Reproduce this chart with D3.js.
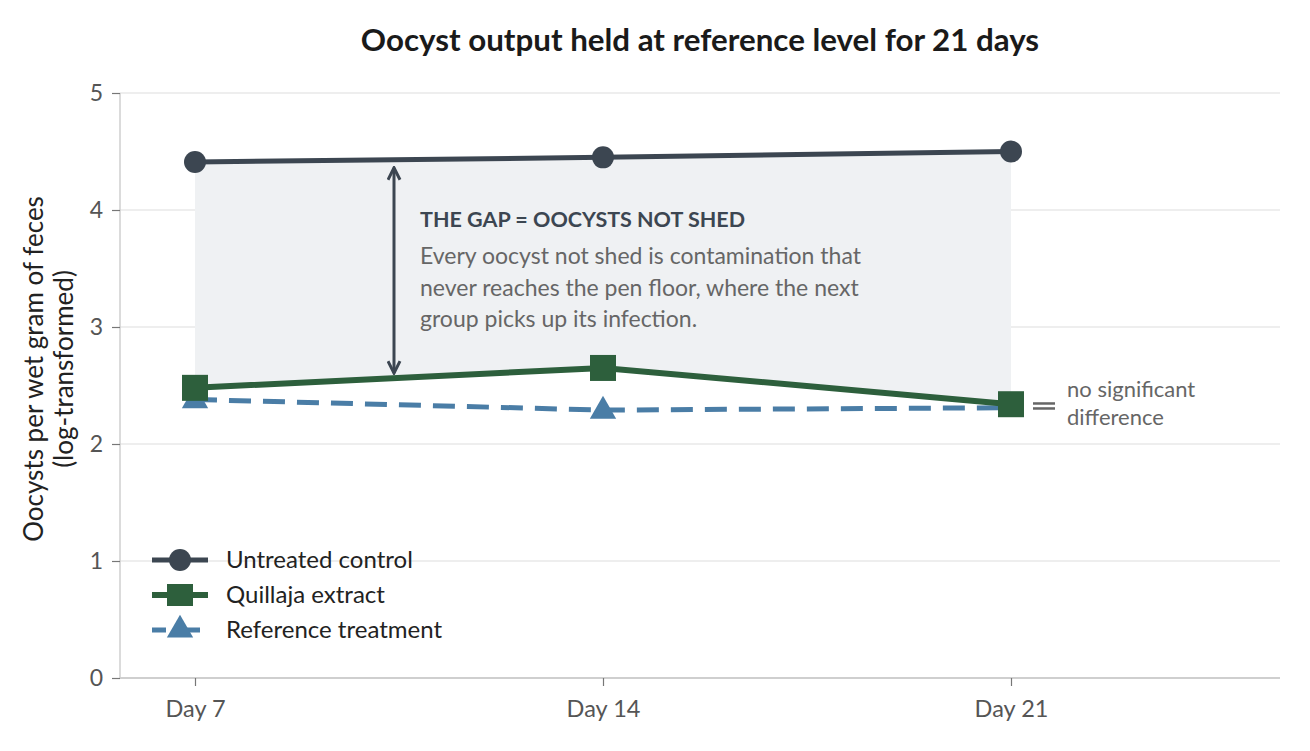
<!DOCTYPE html>
<html><head><meta charset="utf-8">
<script src="https://cdn.jsdelivr.net/npm/d3@7"></script>
<style>body{margin:0;background:#fff;font-family:Lato,"Open Sans",sans-serif;}</style>
</head><body><svg id="c" width="1310" height="751"></svg>
<script>
const days = ["Day 7", "Day 14", "Day 21"];
const untreated = [4.41, 4.45, 4.50];
const quillaja = [2.48, 2.65, 2.34];
const reference = [2.38, 2.29, 2.31];
const yTicks = [0, 1, 2, 3, 4, 5];
const seriesNames = ["Untreated control", "Quillaja extract", "Reference treatment"];
const noteTitle = "THE GAP = OOCYSTS NOT SHED";
const noteLines = ["Every oocyst not shed is contamination that", "never reaches the pen floor, where the next", "group picks up its infection."];
const sigLines = ["no significant", "difference"];

const svg = d3.select("#c");
const L = 120, R = 1280, T = 93, B = 678;
const x = d3.scalePoint().domain(days).range([195, 1011]);
const y = d3.scaleLinear().domain([0, 5]).range([B, T]);
const col = {u:"#3c4651", q:"#2d5f3c", r:"#4a7da6"};

svg.append("text").attr("x", 700).attr("y", 51).attr("text-anchor","middle")
  .attr("font-size", 31.3).attr("font-weight", 700).attr("fill","#1a1a1a")
  .text("Oocyst output held at reference level for 21 days");

// grid
svg.append("g").selectAll("line").data(yTicks.filter(d=>d>0)).join("line")
  .attr("x1", L).attr("x2", R).attr("y1", d=>y(d)).attr("y2", d=>y(d))
  .attr("stroke","#e8e8e8").attr("stroke-width",1.5);

// axes
const ya = svg.append("g").attr("transform",`translate(${L},0)`)
  .call(d3.axisLeft(y).tickValues(yTicks).tickSize(8).tickPadding(9).tickFormat(d3.format("d")));
ya.select(".domain").attr("stroke","#cfcfcf").attr("stroke-width",1.5).attr("d",`M0,${T}V${B}`);
ya.selectAll(".tick line").attr("stroke","#777").attr("stroke-width",1.2);
ya.selectAll("text").attr("font-size",23).attr("fill","#555").attr("font-family","Lato");

const xa = svg.append("g").attr("transform",`translate(0,${B})`)
  .call(d3.axisBottom(x).tickSize(8).tickPadding(14));
xa.select(".domain").attr("stroke","#cfcfcf").attr("stroke-width",2).attr("d",`M${L},0H${R}`);
xa.selectAll(".tick line").attr("stroke","#777").attr("stroke-width",1.2);
xa.selectAll("text").attr("font-size",23.5).attr("fill","#555").attr("font-family","Lato");

// y label
const yl = svg.append("text").attr("transform","translate(52,369) rotate(-90)")
  .attr("text-anchor","middle").attr("font-size",26).attr("fill","#222");
yl.append("tspan").attr("x",0).attr("dy",-9).text("Oocysts per wet gram of feces");
yl.append("tspan").attr("x",0).attr("dy",30).text("(log-transformed)");

// gap area
const gapData = days.map((d,i)=>({d, top:untreated[i], bot:quillaja[i]}));
svg.append("path").datum(gapData)
  .attr("d", d3.area().x(p=>x(p.d)).y0(p=>y(p.bot)).y1(p=>y(p.top)))
  .attr("fill","#eff1f3");

// arrow
const ax = 394;
const t = (ax - x(days[0]))/(x(days[1]) - x(days[0]));
const uy = y(untreated[0] + (untreated[1]-untreated[0])*t);
const qy = y(quillaja[0] + (quillaja[1]-quillaja[0])*t);
const defs = svg.append("defs");
defs.append("marker").attr("id","ah").attr("viewBox","0 0 10 10").attr("refX",9).attr("refY",5)
  .attr("markerWidth",5).attr("markerHeight",5).attr("orient","auto-start-reverse")
  .append("path").attr("d","M1,1L9,5L1,9").attr("fill","none").attr("stroke",col.u).attr("stroke-width",2);
svg.append("line").attr("x1",ax).attr("x2",ax).attr("y1",uy+8).attr("y2",qy-5)
  .attr("stroke",col.u).attr("stroke-width",3)
  .attr("marker-start","url(#ah)").attr("marker-end","url(#ah)");

// annotation text
svg.append("text").attr("x",420).attr("y",227).attr("font-size",21.5).attr("font-weight",700)
  .attr("fill","#3c4651").text(noteTitle);
svg.append("g").selectAll("text").data(noteLines).join("text")
  .attr("x",420).attr("y",(d,i)=>264+i*31.5).attr("font-size",23).attr("fill","#666").text(d=>d);

// series
const line = d3.line().x((d,i)=>x(days[i])).y(d=>y(d));
svg.append("path").datum(reference).attr("d",line).attr("fill","none")
  .attr("stroke",col.r).attr("stroke-width",5).attr("stroke-dasharray","22,12");
svg.append("g").selectAll("path").data(reference).join("path")
  .attr("d", d3.symbol(d3.symbolTriangle, 300))
  .attr("transform",(d,i)=>`translate(${x(days[i])},${y(d)+1})`).attr("fill",col.r);

svg.append("path").datum(quillaja).attr("d",line).attr("fill","none")
  .attr("stroke",col.q).attr("stroke-width",6);
svg.append("g").selectAll("rect").data(quillaja).join("rect")
  .attr("x",(d,i)=>x(days[i])-13).attr("y",d=>y(d)-13).attr("width",26).attr("height",26).attr("fill",col.q);

svg.append("path").datum(untreated).attr("d",line).attr("fill","none")
  .attr("stroke",col.u).attr("stroke-width",5);
svg.append("g").selectAll("circle").data(untreated).join("circle")
  .attr("cx",(d,i)=>x(days[i])).attr("cy",d=>y(d)).attr("r",11).attr("fill",col.u);

// no significant difference
const ex = x(days[2]);
const ey = y((quillaja[2]+reference[2])/2);
[-2.5, 2.5].forEach(o=>svg.append("line").attr("x1",ex+22).attr("x2",ex+44)
  .attr("y1",ey+o).attr("y2",ey+o).attr("stroke","#666").attr("stroke-width",2.5));
svg.append("g").selectAll("text").data(sigLines).join("text")
  .attr("x",ex+56).attr("y",(d,i)=>397+i*28).attr("font-size",22).attr("fill","#666").text(d=>d);

// legend
const lg = svg.append("g");
const legRows = [
  {n:seriesNames[0], c:col.u, s:"c", w:5},
  {n:seriesNames[1], c:col.q, s:"s", w:6},
  {n:seriesNames[2], c:col.r, s:"t", w:5}];
legRows.forEach((r,i)=>{
  const yy = 560 + i*35;
  lg.append("line").attr("x1",152).attr("x2",208).attr("y1",yy).attr("y2",yy)
    .attr("stroke",r.c).attr("stroke-width",r.w).attr("stroke-dasharray",r.s==="t"?"14,8,26":null);
  if(r.s==="c") lg.append("circle").attr("cx",180).attr("cy",yy).attr("r",11).attr("fill",r.c);
  if(r.s==="s") lg.append("rect").attr("x",167).attr("y",yy-11).attr("width",26).attr("height",22).attr("fill",r.c);
  if(r.s==="t") lg.append("path").attr("d",d3.symbol(d3.symbolTriangle,300)).attr("transform",`translate(180,${yy})`).attr("fill",r.c);
  lg.append("text").attr("x",226).attr("y",yy+8).attr("font-size",24).attr("fill","#222").text(r.n);
});
</script></body></html>
